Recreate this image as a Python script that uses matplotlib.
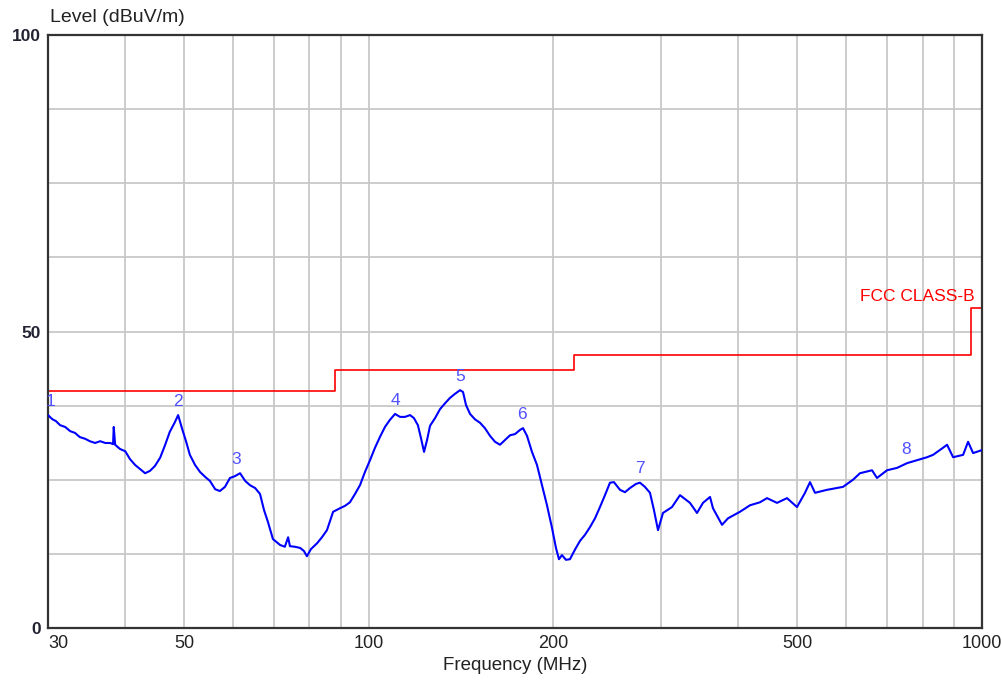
import matplotlib
matplotlib.use("Agg")
import matplotlib.pyplot as plt
from matplotlib.ticker import FixedLocator, NullFormatter, NullLocator

# frequency (MHz) / level (dBuV/m)
freq = [30.0, 30.5, 30.9, 31.4, 32.0, 32.6, 33.2, 33.8, 34.5, 35.1, 35.8, 36.5, 37.2, 37.9,
        38.3, 38.4, 38.6, 39.3, 40.1, 40.8, 41.6, 42.4, 43.2, 44.0, 44.8, 45.7, 46.5, 47.4,
        48.3, 48.9, 49.6, 50.4, 51.1, 52.1, 53.1, 54.1, 55.1, 56.2, 57.2, 58.3, 59.4, 60.5,
        61.7, 62.9, 64.0, 65.3, 66.5, 67.5, 68.5, 69.8, 71.7, 73.0, 73.9, 74.4, 75.8, 77.3,
        78.4, 79.3, 80.5, 82.4, 83.9, 85.5, 87.5, 89.8, 91.5, 93.2, 95.0, 96.8, 98.6, 100.5,
        102.4, 104.3, 106.3, 108.3, 110.4, 112.5, 114.6, 116.8, 118.5, 120.3, 121.7, 123.1,
        124.5, 125.9, 128.3, 130.7, 133.2, 135.7, 138.3, 140.9, 142.5, 144.1, 146.3, 149.0,
        151.9, 154.7, 157.7, 160.7, 163.7, 166.8, 170.0, 173.2, 176.5, 178.5, 181.2, 184.6,
        188.1, 191.7, 195.3, 199.0, 202.0, 204.3, 206.6, 209.7, 212.9, 216.9, 221.1, 225.2,
        229.5, 233.9, 238.3, 242.8, 247.4, 251.1, 256.9, 261.7, 266.7, 272.8, 276.9, 282.1,
        287.5, 291.8, 296.3, 301.9, 312.3, 321.8, 334.1, 343.0, 350.8, 360.2, 364.2, 376.8,
        385.4, 403.1, 418.6, 434.5, 446.1, 463.2, 480.9, 499.3, 514.5, 524.3, 534.2, 558.9,
        593.4, 616.1, 632.5, 661.7, 674.2, 700.1, 726.9, 754.8, 783.7, 813.7, 832.2, 864.1,
        877.1, 897.2, 931.5, 949.1, 967.1, 1000.0]
level = [35.9, 35.2, 34.9, 34.2, 33.9, 33.2, 32.9, 32.2, 31.9, 31.5, 31.2, 31.5, 31.2, 31.2,
         31.0, 33.9, 30.9, 30.2, 29.8, 28.5, 27.5, 26.8, 26.1, 26.5, 27.3, 28.7, 30.7, 33.1,
         34.7, 35.9, 33.7, 31.4, 29.2, 27.5, 26.3, 25.5, 24.8, 23.4, 23.1, 23.8, 25.3, 25.6,
         26.1, 24.8, 24.1, 23.6, 22.6, 19.9, 17.9, 15.0, 14.0, 13.7, 15.3, 13.8, 13.7, 13.5,
         13.0, 12.1, 13.3, 14.3, 15.3, 16.5, 19.6, 20.2, 20.6, 21.2, 22.6, 24.1, 26.3, 28.3,
         30.4, 32.2, 33.9, 35.1, 36.1, 35.6, 35.6, 35.9, 35.4, 34.2, 32.0, 29.7,
         31.7, 34.1, 35.4, 36.9, 37.9, 38.8, 39.5, 40.1, 39.8, 37.6, 36.1, 35.2,
         34.6, 33.7, 32.4, 31.4, 30.9, 31.7, 32.5, 32.7, 33.4, 33.7, 32.4, 29.7,
         27.5, 24.1, 20.7, 16.9, 13.5, 11.6, 12.3, 11.5, 11.6, 13.2, 14.7, 15.7,
         17.0, 18.5, 20.4, 22.4, 24.5, 24.6, 23.3, 22.9, 23.6, 24.3, 24.5, 23.8,
         22.8, 19.9, 16.5, 19.4, 20.4, 22.4, 21.1, 19.4, 21.1, 22.1, 20.2, 17.4,
         18.5, 19.6, 20.7, 21.2, 21.9, 21.1, 21.9, 20.4, 22.8, 24.6, 22.8, 23.3,
         23.8, 25.0, 26.1, 26.6, 25.3, 26.6, 27.0, 27.8, 28.3, 28.8, 29.2, 30.4,
         30.9, 28.8, 29.2, 31.4, 29.5, 30.0]

# FCC class B limit (step line)
limit_freq = [30, 88, 88, 216, 216, 960, 960, 1000]
limit_level = [40, 40, 43.5, 43.5, 46, 46, 54, 54]

# numbered markers
marker_ids = ["1", "2", "3", "4", "5", "6", "7", "8"]
marker_freq = [30.3, 48.9, 60.8, 110.4, 140.9, 177.8, 277.0, 751.8]
marker_level = [35.9, 35.9, 26.0, 36.1, 40.1, 33.6, 24.5, 27.8]

x_grid = [40, 50, 60, 70, 80, 90, 100, 200, 300, 400, 500, 600, 700, 800, 900]
x_labels = [30, 50, 100, 200, 500, 1000]
y_grid = [12.5, 25, 37.5, 50, 62.5, 75, 87.5]
y_labels = [0, 50, 100]

sans = ["Liberation Sans", "DejaVu Sans"]

fig = plt.figure(figsize=(10.02, 6.84), dpi=100)
ax = fig.add_axes([48 / 1002, 56 / 684, 934 / 1002, 593 / 684])

ax.set_xscale("log")
ax.set_xlim(30, 1000)
ax.set_ylim(0, 100)

for g in x_grid:
    ax.axvline(g, color="#c8c8c8", lw=1.3, zorder=0)
for g in y_grid:
    ax.axhline(g, color="#c8c8c8", lw=1.3, zorder=0)

ax.plot(limit_freq, limit_level, color="#ff0000", lw=1.2, zorder=2)
ax.plot(freq, level, color="#0000ff", lw=1.5, zorder=3)

for m, f, l in zip(marker_ids, marker_freq, marker_level):
    ax.annotate(m, (f, l), xytext=(0, 10), textcoords="offset points",
                ha="center", va="center", color="#5050ff", fontsize=12.5, family=sans)

ax.annotate("FCC CLASS-B", (1000, 54), xytext=(-5, 3), textcoords="offset points",
            ha="right", va="bottom", color="#ff0000", fontsize=12.5, family=sans)

ax.xaxis.set_major_locator(FixedLocator(x_labels))
ax.xaxis.set_minor_locator(NullLocator())
ax.xaxis.set_minor_formatter(NullFormatter())
ax.set_xticklabels([str(v) for v in x_labels], family=sans, fontsize=13, color="#222222")
ax.set_yticks(y_labels)
ax.set_yticklabels([str(v) for v in y_labels], family=sans, fontsize=12.5,
                   fontweight="bold", color="#222233")
ax.tick_params(axis="both", length=0, pad=5)
ax.xaxis.get_ticklabels()[0].set_horizontalalignment("left")

for s in ax.spines.values():
    s.set_color("#333333")
    s.set_linewidth(1.6)

ax.set_xlabel("Frequency (MHz)", family=sans, fontsize=13.5, color="#222222", labelpad=4)
fig.text(50 / 1002, 1 - 18 / 684, "Level (dBuV/m)", family=sans, fontsize=14,
         color="#222222", ha="left", va="center")

fig.savefig("out.png", dpi=100)
